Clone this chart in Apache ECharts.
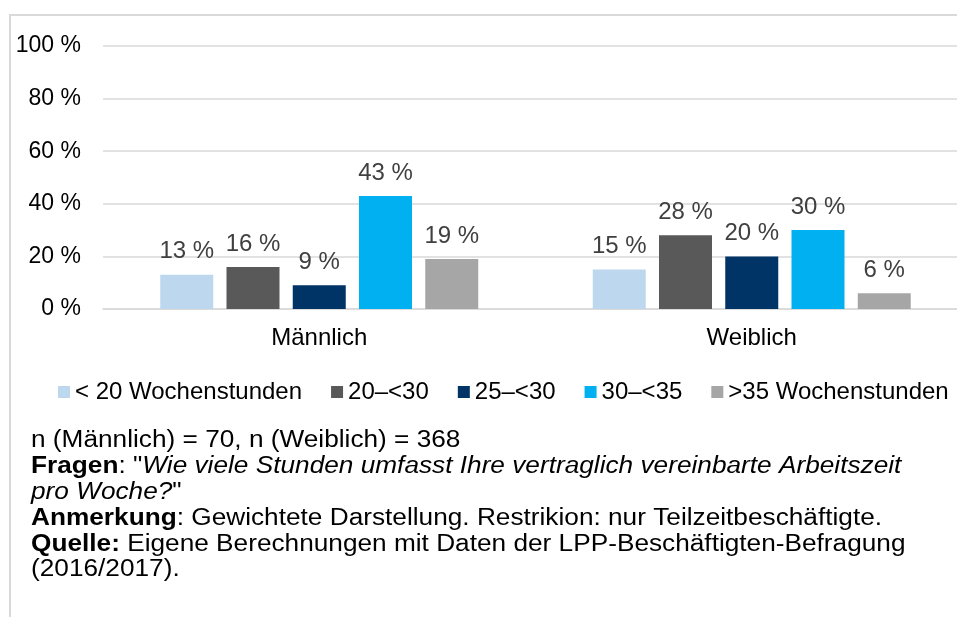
<!DOCTYPE html>
<html>
<head>
<meta charset="utf-8">
<script src="https://cdn.jsdelivr.net/npm/echarts@6/dist/echarts.min.js"></script>
<style>
  html, body { margin: 0; padding: 0; background: #fff; }
  #chart { width: 957px; height: 617px; }
</style>
</head>
<body>
<div id="chart"></div>
<script>
// Categories (x axis) and the five working-hour bands
const categories = ['Männlich', 'Weiblich'];
const bandNames = ['< 20 Wochenstunden', '20–<30', '25–<30', '30–<35', '>35 Wochenstunden'];
const bandColors = ['#BDD7EE', '#595959', '#003366', '#00B0F0', '#A6A6A6'];

// Shares in percent, one value per category
const under20 = [13, 15];
const from20to30 = [16, 28];
const from25to30 = [9, 20];
const from30to35 = [43, 30];
const over35 = [19, 6];

// Y axis ticks
const yMin = 0, yMax = 100, yStep = 20;

const bandValues = [under20, from20to30, from25to30, from30to35, over35];

const FONT = '"Liberation Sans", Arial, sans-serif';

const series = bandNames.map((name, i) => ({
  name: name,
  type: 'bar',
  data: bandValues[i],
  barWidth: 53,
  barGap: '25%',
  itemStyle: { color: bandColors[i] },
  label: {
    show: true,
    position: 'top',
    distance: 11,
    formatter: '{c} %',
    color: '#404040',
    fontFamily: FONT,
    fontSize: 24
  }
}));

// Footnote lines below the chart (rich text: b = bold, i = italic)
const noteLines = [
  'n (Männlich) = 70, n (Weiblich) = 368',
  '{b|Fragen}: "{i|Wie viele Stunden umfasst Ihre vertraglich vereinbarte Arbeitszeit}',
  '{i|pro Woche?}"',
  '{b|Anmerkung}: Gewichtete Darstellung. Restrikion: nur Teilzeitbeschäftigte.',
  '{b|Quelle:} Eigene Berechnungen mit Daten der LPP-Beschäftigten-Befragung',
  '(2016/2017).'
];

const noteElements = noteLines.map((line, i) => ({
  type: 'text',
  x: 31,
  y: 441 + i * 25.8,
  scaleX: 1.14,
  style: {
    text: line,
    fontFamily: FONT,
    fontSize: 23,
    fill: '#000',
    align: 'left',
    verticalAlign: 'middle',
    rich: {
      b: { fontFamily: FONT, fontSize: 23, fontWeight: 'bold', fill: '#000' },
      i: { fontFamily: FONT, fontSize: 23, fontStyle: 'italic', fill: '#000' }
    }
  }
}));

const chart = echarts.init(document.getElementById('chart'));
chart.setOption({
  animation: false,
  backgroundColor: '#fff',
  grid: { left: 103, top: 46, width: 865, height: 263, containLabel: false, outerBoundsMode: 'none' },
  legend: {
    data: bandNames,
    left: 58,
    top: 380,
    padding: 0,
    itemWidth: 12,
    itemHeight: 12,
    itemGap: 29,
    icon: 'rect',
    textStyle: { fontFamily: FONT, fontSize: 24, color: '#000', lineHeight: 24 }
  },
  xAxis: {
    type: 'category',
    data: categories,
    axisTick: { show: false },
    axisLine: { lineStyle: { color: '#D9D9D9', width: 1.5 } },
    axisLabel: { fontFamily: FONT, fontSize: 24, color: '#000', margin: 17 }
  },
  yAxis: {
    type: 'value',
    min: yMin,
    max: yMax,
    interval: yStep,
    axisLine: { show: false },
    axisTick: { show: false },
    splitLine: { lineStyle: { color: '#D9D9D9', width: 1.5 } },
    axisLabel: { fontFamily: FONT, fontSize: 23, color: '#000', margin: 22, formatter: '{value} %' }
  },
  series: series,
  graphic: [
    {
      type: 'polyline',
      shape: { points: [[10, 617], [10, 15], [957, 15]] },
      style: { stroke: '#D9D9D9', lineWidth: 2, fill: null }
    }
  ].concat(noteElements)
});
</script>
</body>
</html>
